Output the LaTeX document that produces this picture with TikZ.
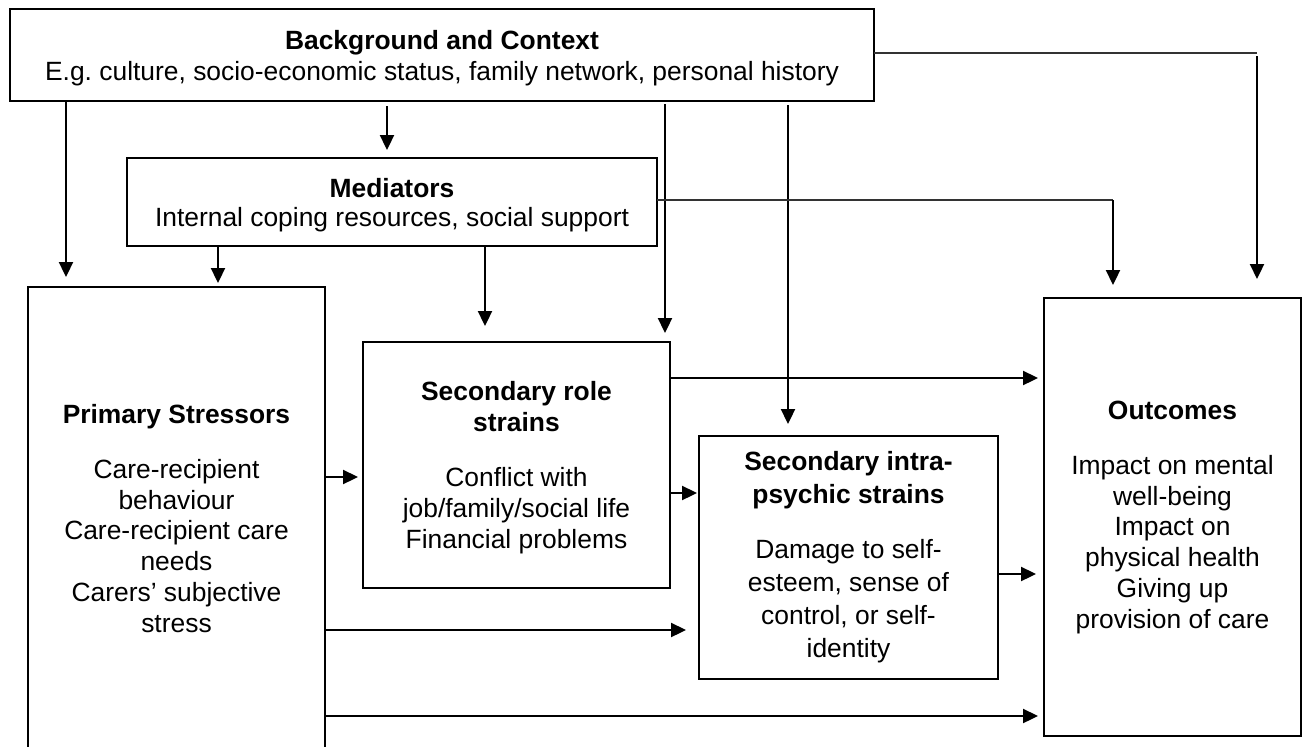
\documentclass[tikz,border=0pt]{standalone}
\usepackage{fontspec}
\setmainfont{Liberation Sans}
\usetikzlibrary{arrows.meta}
\frenchspacing
\begin{document}
\begin{tikzpicture}[x=1pt,y=-1pt,
  box/.style={draw, line width=2.7pt, inner sep=0pt, outer sep=0pt},
  txt/.style={align=center, inner sep=0pt, anchor=base, font=\fontsize{26.4}{30.7}\selectfont},
  arr/.style={line width=2.3pt, -{Triangle[length=15pt,width=14pt]}},
  thinline/.style={line width=1.4pt, black!80}]
\useasboundingbox (0,0) rectangle (1307,747);
% boxes
\node[box, minimum width=864pt, minimum height=92pt] (bg) at (442,55) {};
\node[box, minimum width=530pt, minimum height=88pt] (med) at (392,202) {};
\node[box, minimum width=297pt, minimum height=473pt] (prim) at (176.5,523.5) {};
\node[box, minimum width=307pt, minimum height=246pt] (role) at (516.5,465) {};
\node[box, minimum width=299pt, minimum height=243pt] (intra) at (848.5,557.5) {};
\node[box, minimum width=257pt, minimum height=438pt] (out) at (1172.5,517) {};
% texts (anchored at the baseline of their last line)
\node[txt] (bgt) at (442,80) {\textbf{Background and Context}\\[0.3pt]E.g. culture, socio-economic status, family network, personal history};
\node[txt] (medt) at (392,226) {\textbf{Mediators}\\[-1.7pt]Internal coping resources, social support};
\node[txt] (primt) at (176.5,632) {\textbf{Primary Stressors}\\[24.3pt]Care-recipient\\behaviour\\Care-recipient care\\needs\\Carers’ subjective\\stress};
\node[txt] (rolet) at (516.5,548) {\textbf{Secondary role}\\\textbf{strains}\\[24.3pt]Conflict with\\job/family/social life\\Financial problems};
\node[txt, font=\fontsize{26.4}{33}\selectfont] (intrat) at (848.5,657) {\textbf{Secondary intra-}\\\textbf{psychic strains}\\[22pt]Damage to self-\\esteem, sense of\\control, or self-\\identity};
\node[txt] (outt) at (1172.5,628) {\textbf{Outcomes}\\[24.3pt]Impact on mental\\well-being\\Impact on\\physical health\\Giving up\\provision of care};
% helper coordinates
\coordinate (xa) at (66,0);
\coordinate (xb) at (387,0);
\coordinate (xc) at (218,0);
\coordinate (xd) at (485,0);
\coordinate (xe) at (665,0);
\coordinate (xf) at (788,0);
\coordinate (c1) at (1257,53);
\coordinate (c2) at (1113,200);
\coordinate (y1) at (0,477);
\coordinate (y2) at (0,493);
\coordinate (y3) at (0,630);
\coordinate (y4) at (0,716);
\coordinate (y5) at (0,378);
\coordinate (y6) at (0,574);
% vertical arrows
\draw[arr, shorten >=10pt] (bg.south -| xa) -- (prim.north -| xa);
\draw[arr, shorten <=5pt, shorten >=8pt] (bg.south -| xb) -- (med.north -| xb);
\draw[arr, shorten >=4pt] (med.south -| xc) -- (prim.north -| xc);
\draw[arr, shorten >=16pt] (med.south -| xd) -- (role.north -| xd);
\draw[arr, shorten <=3pt, shorten >=9pt] (bg.south -| xe) -- (role.north -| xe);
\draw[arr, shorten <=4pt, shorten >=12pt] (bg.south -| xf) -- (intra.north -| xf);
\draw[thinline] (bg.east |- c1) -- (c1);
\draw[arr, shorten <=3pt, shorten >=19pt] (c1) -- (c1 |- out.north);
\draw[thinline] (med.east |- c2) -- (c2);
\draw[arr, shorten >=13pt] (c2) -- (c2 |- out.north);
% horizontal arrows
\draw[arr, shorten >=5pt] (prim.east |- y1) -- (role.west |- y1);
\draw[arr, shorten >=2pt] (role.east |- y2) -- (intra.west |- y2);
\draw[arr, shorten >=13pt] (prim.east |- y3) -- (intra.west |- y3);
\draw[arr, shorten >=6pt] (prim.east |- y4) -- (out.west |- y4);
\draw[arr, shorten >=6pt] (role.east |- y5) -- (out.west |- y5);
\draw[arr, shorten >=8pt] (intra.east |- y6) -- (out.west |- y6);
\end{tikzpicture}
\end{document}
